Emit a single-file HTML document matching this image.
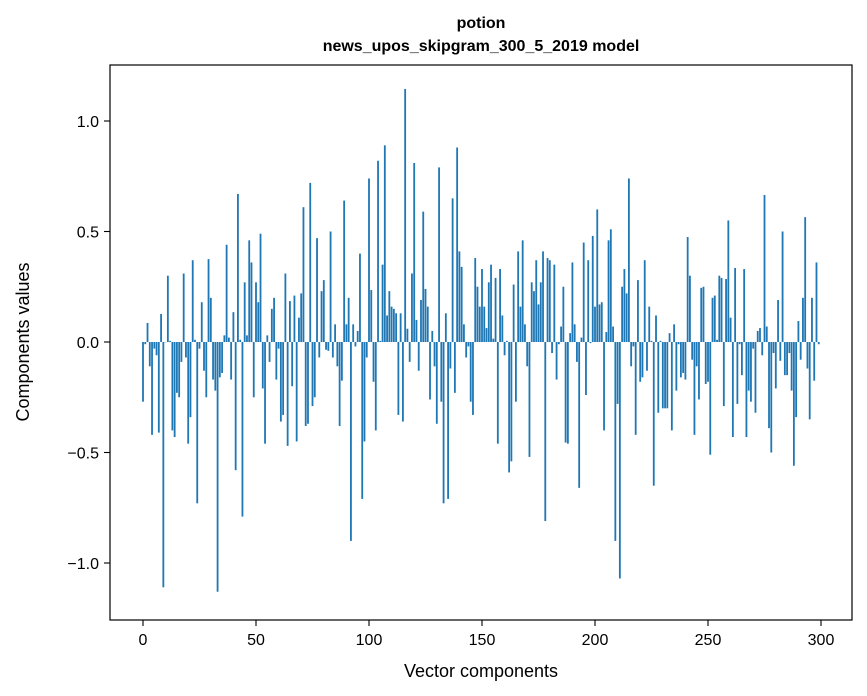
<!DOCTYPE html>
<html><head><meta charset="utf-8"><style>
html,body{margin:0;padding:0;background:#fff;}
svg{display:block;font-family:"Liberation Sans","DejaVu Sans",sans-serif;}
</style></head>
<body>
<svg id="chart" width="867" height="696" viewBox="0 0 867 696" xmlns="http://www.w3.org/2000/svg">
<rect x="0" y="0" width="867" height="696" fill="#fff"/>
<text x="481" y="28" text-anchor="middle" font-size="16" font-weight="bold">potion</text>
<text x="481" y="51" text-anchor="middle" font-size="16" font-weight="bold">news_upos_skipgram_300_5_2019 model</text>
<g id="bars"></g>
<g id="axes"></g>
<rect x="110" y="65" width="742" height="555" fill="none" stroke="#000" stroke-width="1.2"/>
<text x="481" y="677" text-anchor="middle" font-size="18">Vector components</text>
<text transform="translate(29,342) rotate(-90)" text-anchor="middle" font-size="18">Components values</text>
</svg>
<script>
const values = [
-0.27,-0.01,0.086,-0.11,-0.42,-0.03,-0.06,-0.41,0.127,-1.11,0,0.30,0.005,-0.40,-0.43,-0.23,-0.25,-0.09,0.31,-0.07,-0.46,-0.34,0.37,0.01,-0.73,-0.03,0.18,-0.13,-0.25,0.375,0.20,-0.17,-0.22,-1.13,-0.16,-0.14,0.03,0.44,0.02,-0.17,0.135,-0.58,0.67,0.01,-0.79,0.27,0.03,0.46,0.36,-0.25,
0.27,0.18,0.49,-0.21,-0.46,0.03,-0.09,0.15,0.20,-0.17,-0.03,-0.36,-0.33,0.31,-0.47,0.185,-0.20,0.21,-0.45,0.11,0.22,0.61,-0.38,-0.37,0.72,-0.29,-0.25,0.47,-0.07,0.23,0.28,-0.035,-0.04,0.50,-0.07,0.08,-0.11,-0.38,-0.175,0.64,0.08,0.20,-0.90,0.08,-0.02,0.05,0.40,-0.71,-0.45,-0.07,
0.74,0.235,-0.18,-0.40,0.82,0.005,0.35,0.89,0.12,0.23,0.16,0.15,0.13,-0.33,0.13,-0.36,1.145,0.06,-0.09,0.31,0.81,0.10,-0.13,0.19,0.59,0.24,0.16,-0.26,0.05,-0.11,-0.37,0.79,-0.27,-0.73,0.13,-0.71,-0.12,0.65,-0.23,0.88,0.41,0.34,0.08,-0.07,-0.02,-0.27,-0.33,0.38,0.25,0.16,
0.33,0.16,0.063,0.27,0.35,0.015,0.29,-0.46,0.33,0.12,-0.06,0.005,-0.59,-0.54,0.26,-0.27,0.41,0.16,0.46,0.08,-0.11,-0.52,0.27,0.23,0.37,0.17,0.27,0.41,-0.81,0.38,0.37,-0.05,0.35,-0.17,-0.01,0.07,0.25,-0.455,-0.46,0.04,0.36,0.08,-0.09,-0.66,0.02,0.45,-0.24,0.37,-0.005,0.48,
0.16,0.60,0.17,0.18,-0.40,0.045,0.46,0.51,0.07,-0.90,-0.28,-1.07,0.25,0.33,0.22,0.74,-0.11,-0.02,-0.42,0.28,-0.18,-0.16,0.37,-0.13,0.16,0.005,-0.65,0.12,-0.32,0.005,-0.30,-0.30,-0.30,0.04,-0.40,0.08,-0.22,-0.01,-0.16,-0.14,-0.17,0.475,0.30,-0.08,-0.42,-0.11,-0.26,0.245,0.25,-0.19,
-0.18,-0.51,0.20,0.21,0.01,0.30,0.29,-0.29,0.285,0.55,0.11,-0.43,0.335,-0.28,-0.01,-0.15,0.33,-0.43,-0.22,-0.27,-0.03,-0.32,0.05,0.063,-0.06,0.665,0.07,-0.39,-0.50,-0.05,-0.21,0.19,-0.085,0.50,-0.15,-0.15,-0.05,-0.22,-0.56,-0.34,0.095,-0.08,0.20,0.565,-0.12,-0.35,0.20,-0.175,0.36,-0.01
];
const xTicks = [0,50,100,150,200,250,300];
const yTicks = [-1.0,-0.5,0.0,0.5,1.0];
const yTickLabels = ["\u22121.0","\u22120.5","0.0","0.5","1.0"];

const NS = "http://www.w3.org/2000/svg";
function xScale(i){ return 143 + 2.26*i; }
function yScale(v){ return 342 - 221*v; }
const bw = 2.26*0.8;
const barsG = document.getElementById('bars');
values.forEach(function(v,i){
  const r = document.createElementNS(NS,'rect');
  const y0 = yScale(0), y1 = yScale(v);
  r.setAttribute('x', xScale(i)-bw/2);
  r.setAttribute('y', Math.min(y0,y1));
  r.setAttribute('width', bw);
  r.setAttribute('height', Math.max(Math.abs(y1-y0),0.3));
  r.setAttribute('fill', '#1f77b4');
  
  
  barsG.appendChild(r);
});
const axG = document.getElementById('axes');
xTicks.forEach(function(t){
  const x = xScale(t);
  const l = document.createElementNS(NS,'line');
  l.setAttribute('x1',x);l.setAttribute('x2',x);l.setAttribute('y1',620);l.setAttribute('y2',626);
  l.setAttribute('stroke','#000');l.setAttribute('stroke-width','1.1');
  
  
  axG.appendChild(l);
  const tx = document.createElementNS(NS,'text');
  tx.setAttribute('x',x);tx.setAttribute('y',645);tx.setAttribute('text-anchor','middle');tx.setAttribute('font-size','16');
  tx.textContent = String(t);
  
  
  axG.appendChild(tx);
});
yTicks.forEach(function(t,k){
  const y = yScale(t);
  const l = document.createElementNS(NS,'line');
  l.setAttribute('x1',104);l.setAttribute('x2',110);l.setAttribute('y1',y);l.setAttribute('y2',y);
  l.setAttribute('stroke','#000');l.setAttribute('stroke-width','1.1');
  
  
  axG.appendChild(l);
  const tx = document.createElementNS(NS,'text');
  tx.setAttribute('x',99);tx.setAttribute('y',y+6);tx.setAttribute('text-anchor','end');tx.setAttribute('font-size','16');
  tx.textContent = yTickLabels[k];
  
  
  axG.appendChild(tx);
});
</script>
</body></html>
